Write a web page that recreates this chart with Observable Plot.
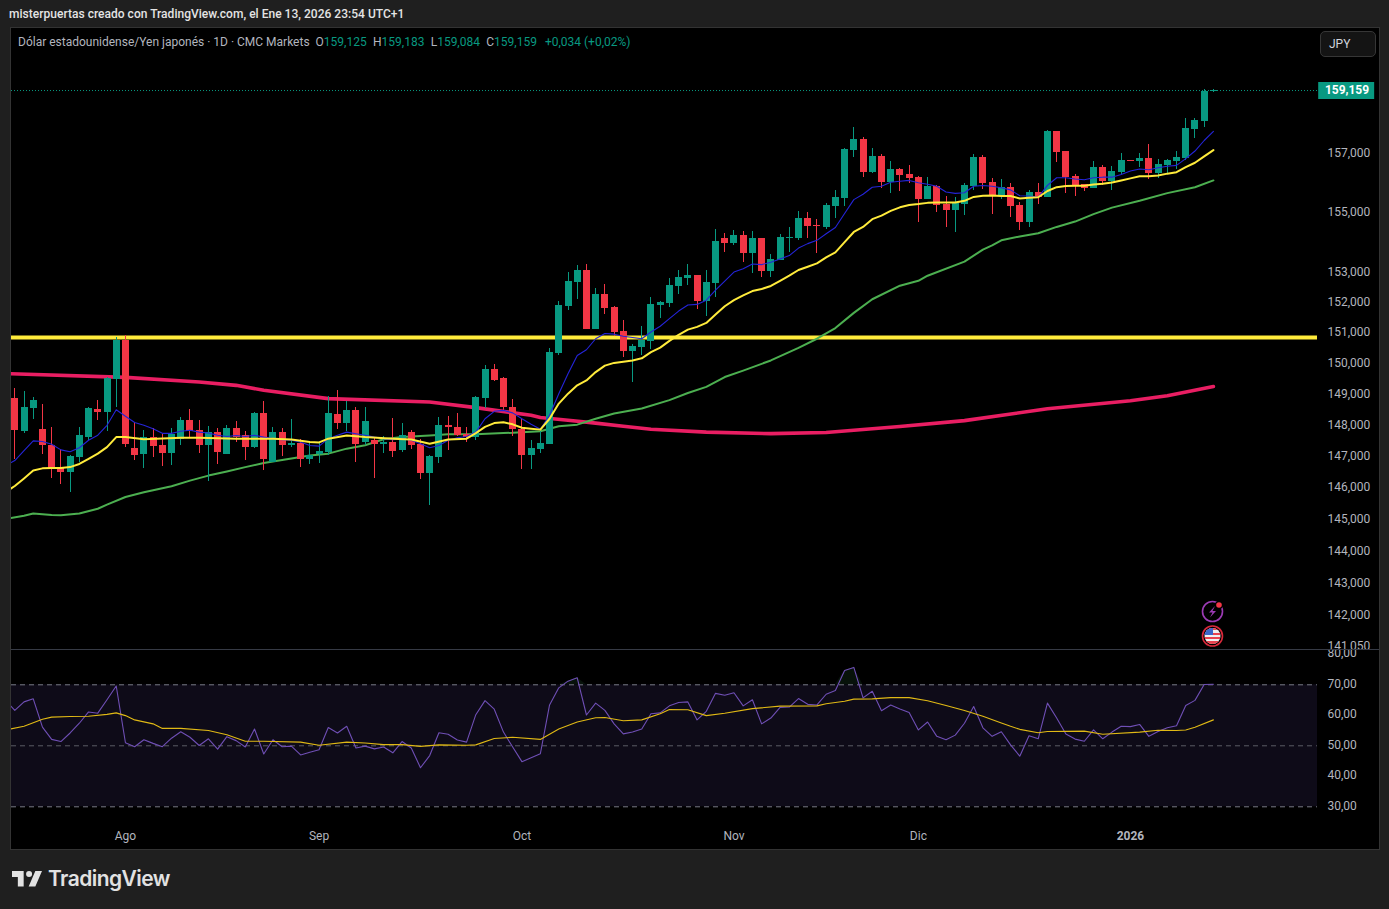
<!DOCTYPE html>
<html lang="es">
<head>
<meta charset="utf-8">
<script src="https://cdn.jsdelivr.net/npm/d3@7"></script>
<script src="https://cdn.jsdelivr.net/npm/@observablehq/plot@0.6"></script>
<style>
html,body{margin:0;padding:0;background:#1f1f1f;width:1389px;height:909px;overflow:hidden;font-family:Roboto,sans-serif}
.abs{position:absolute;white-space:nowrap}
#pane{left:10px;top:27px;width:1368px;height:821px;background:#000;border:1px solid #333}
#head{left:9px;top:7px;font-size:12px;font-weight:500;color:#e4e4e4;letter-spacing:.02px}
#legend{left:18px;top:35px;font-size:12px;color:#b2b5be}
#legend b{font-weight:400;color:#089981}
#legend span{margin-right:6.3px}
#legend span.first{margin-right:3px}
#legend span.last{margin-right:5px}
#jpy{left:1320px;top:31px;width:46px;height:24px;padding-left:8px;line-height:25px;font-size:12px;color:#d1d4dc;background:#141414;border:1px solid #363636;border-radius:5px}
#logoText{left:48px;top:866px;font-family:Inter,Roboto,sans-serif;font-size:21px;font-weight:600;color:#e2e2e2;letter-spacing:-.55px}
</style>
</head>
<body>
<div class="abs" id="pane"></div>
<div class="abs" id="head">misterpuertas creado con TradingView.com, el Ene 13, 2026 23:54 UTC+1</div>
<div class="abs" id="legend"><span class="first">Dólar estadounidense/Yen japonés · 1D · CMC Markets</span> <span>O<b>159,125</b></span><span>H<b>159,183</b></span><span>L<b>159,084</b></span><span class="last">C<b>159,159</b></span> <b>+0,034 (+0,02%)</b></div>
<div class="abs" id="jpy">JPY</div>
<svg class="abs" style="left:12px;top:871px" width="30" height="16" viewBox="0 0 36 19"><path fill="#e2e2e2" d="M14 18.5H7V7H0V0h14zM28 18.5h-8L28 0h8z"/><circle fill="#e2e2e2" cx="20.5" cy="3.6" r="3.6"/></svg>
<div class="abs" id="logoText">TradingView</div>
<div id="chart"></div>
<svg class="abs" style="left:1198px;top:598px;z-index:3" width="30" height="52" viewBox="0 0 30 52">
<circle cx="14.5" cy="13.5" r="10" fill="#000" stroke="#9c3bb5" stroke-width="1.6"/>
<path d="M17 8l-6 6.500h3.500l-2.500 5 6-6.500h-3.500z" fill="#9c3bb5"/>
<circle cx="21" cy="7" r="4" fill="#000"/><circle cx="21" cy="7" r="2.800" fill="#f23645"/>
<defs><clipPath id="fl"><circle cx="14.500" cy="38" r="8"/></clipPath></defs>
<circle cx="14.500" cy="38" r="10" fill="#000" stroke="#d9283a" stroke-width="1.6"/>
<g clip-path="url(#fl)"><rect x="6" y="30" width="18" height="16" fill="#f0f0f0"/><rect x="6" y="35" width="18" height="2" fill="#e8434f"/><rect x="6" y="39" width="18" height="2" fill="#e8434f"/><rect x="6" y="43" width="18" height="3" fill="#e8434f"/><rect x="6" y="30" width="18" height="2" fill="#e8434f"/><rect x="6" y="30" width="9" height="7" fill="#3a66c9"/></g>
</svg>
<script>
// ---- daily candles, USD/JPY (index 0 = 16 Jul 2025, weekdays only)
const opens=[148.85,147.80,148.54,147.86,147.34,146.60,146.47,146.96,147.60,148.51,148.41,149.47,150.74,147.25,147.05,147.60,147.34,147.09,147.54,148.15,
147.83,147.34,147.76,147.05,147.89,147.67,147.28,148.38,146.80,147.76,147.34,147.41,146.89,147.05,147.12,148.34,148.05,148.47,147.44,147.51,
147.38,147.44,147.18,147.76,147.38,146.44,146.96,147.99,147.92,147.70,147.60,148.86,149.80,149.51,148.57,147.86,147.02,147.22,147.38,150.32,
151.87,152.66,153.06,151.11,152.26,151.84,151.04,150.38,150.52,150.71,151.90,151.97,152.53,152.79,152.89,152.03,152.63,154.13,153.96,154.23,
153.62,154.13,153.01,153.38,154.13,154.13,154.80,154.57,154.50,155.21,155.48,157.10,157.47,156.36,156.90,156.02,156.46,156.29,156.19,155.44,
155.88,155.28,155.07,155.28,155.88,156.86,156.01,155.57,155.84,155.23,154.65,155.67,155.50,157.75,157.07,156.22,155.94,155.81,156.52,156.05,
156.35,156.76,156.73,156.83,156.32,156.59,156.73,156.83,157.83,158.09,159.125];
const closes=[147.83,148.56,148.80,147.34,146.57,146.47,146.99,147.67,148.54,148.41,149.51,150.74,147.38,147.02,147.60,147.31,147.09,147.70,148.15,147.80,
147.34,147.76,147.12,147.89,147.60,147.28,148.38,146.89,147.76,147.34,147.41,146.89,147.02,147.15,148.38,148.05,148.47,147.38,148.12,147.38,
147.44,147.15,147.67,147.34,146.44,146.99,147.99,147.92,147.67,147.60,148.89,149.80,149.44,148.57,147.86,147.02,147.25,147.41,150.35,151.90,
152.69,153.06,151.11,152.26,151.80,151.01,150.38,150.55,150.75,151.93,152.00,152.56,152.82,152.89,152.03,152.66,154.02,153.96,154.23,153.62,
154.13,153.01,153.42,154.16,154.16,154.80,154.53,154.53,155.24,155.51,157.14,157.47,156.36,156.90,156.02,156.46,156.26,156.15,155.44,155.88,
155.24,155.07,155.31,155.92,156.86,155.99,155.57,155.84,155.19,154.65,155.67,155.50,157.75,157.03,156.18,155.91,155.81,156.52,156.05,156.39,
156.76,156.73,156.83,156.32,156.63,156.76,156.86,157.86,158.13,159.13,159.159];
const highs=[149.17,149.09,148.89,148.67,147.92,147.22,147.02,147.92,148.57,148.80,149.53,150.83,150.90,148.09,147.83,147.89,147.70,147.89,148.25,148.51,
148.15,147.96,147.89,147.99,148.12,147.80,148.41,148.76,147.92,147.89,148.18,147.54,147.47,147.44,148.92,149.12,148.76,148.57,148.57,147.60,
147.63,148.22,148.05,147.83,147.54,147.02,148.25,148.28,148.38,147.92,148.92,149.92,149.96,149.54,148.83,148.22,147.51,147.80,150.48,152.03,
152.99,153.22,153.26,152.46,152.59,151.87,151.41,150.62,151.21,152.16,152.03,152.79,153.06,153.26,152.89,153.06,154.43,154.29,154.40,154.35,
154.36,154.13,153.59,154.26,154.50,155.04,155.00,154.77,155.31,155.75,157.17,157.88,157.54,157.17,156.97,156.73,156.49,156.59,156.22,156.19,
155.92,155.55,155.51,155.99,156.97,156.93,156.15,156.11,155.98,155.33,155.74,155.98,157.78,157.75,157.07,156.28,155.94,156.73,156.59,156.56,
157.00,156.77,157.00,157.31,156.80,156.80,157.07,158.20,158.20,159.20,159.183];
const lows=[146.88,147.74,148.18,147.05,146.28,146.09,145.83,146.80,147.51,148.15,147.80,148.57,147.28,146.86,146.60,146.96,146.67,146.70,147.34,147.57,
147.09,146.18,146.73,147.05,147.44,146.86,147.25,146.54,146.80,146.99,147.28,146.63,146.73,146.76,147.02,147.86,147.80,146.80,147.34,146.28,
147.09,146.96,147.12,147.22,146.25,145.44,146.76,147.18,147.63,147.44,147.51,148.54,149.41,148.47,147.63,146.57,146.57,147.09,147.38,150.25,
151.74,152.10,151.11,151.11,151.60,150.88,150.19,149.38,150.25,150.45,151.47,151.84,152.26,152.56,151.77,151.54,152.16,153.65,153.89,153.31,
152.94,152.81,152.81,153.38,153.65,154.06,154.13,153.62,154.43,154.80,155.21,156.86,156.19,156.32,155.82,155.65,155.72,155.99,154.67,155.44,
155.00,154.50,154.33,154.90,155.75,155.78,154.92,155.43,154.82,154.38,154.48,155.26,155.50,156.69,155.64,155.53,155.70,155.81,155.91,155.74,
156.28,156.72,156.52,156.11,156.15,156.28,156.45,156.76,157.51,157.89,159.084];

// ---- moving averages: index of each reading, then the reading
const blueIdx=d3.range(-1,131);
const blueVal=[146.70,146.86,147.18,147.49,147.47,147.38,147.20,147.14,147.27,147.51,147.67,147.99,148.49,148.28,148.08,147.99,147.88,147.73,147.73,147.80,147.83,
147.77,147.74,147.67,147.63,147.66,147.63,147.67,147.61,147.56,147.53,147.51,147.45,147.34,147.32,147.56,147.67,147.77,147.72,147.67,147.61,
147.56,147.53,147.56,147.51,147.40,147.27,147.34,147.51,147.59,147.63,147.77,148.20,148.44,148.47,148.39,148.20,148.02,147.86,148.31,149.01,
149.66,150.25,150.44,150.80,150.97,150.95,150.88,150.84,150.80,151.02,151.21,151.46,151.71,151.91,151.93,152.07,152.40,152.70,153.00,153.11,
153.27,153.25,153.33,153.44,153.55,153.80,153.95,154.06,154.28,154.49,154.96,155.43,155.61,155.85,155.88,156.02,156.05,156.08,156.00,155.95,
155.88,155.69,155.64,155.66,155.88,155.91,155.88,155.83,155.76,155.56,155.55,155.51,155.91,156.17,156.17,156.13,156.10,156.17,156.19,156.19,
156.28,156.40,156.47,156.44,156.51,156.56,156.59,156.82,157.08,157.44,157.75];
const yellowIdx=[-1,0,1,2,3,4,5,6,7,8,9,10,11,12,14,18,20,24,28,30,32,33,34,36,38,41,43,45,47,49,50,51,52,53,54,55,56,57,58,59,60,61,62,63,64,65,66,67,68,69,70,71,72,73,74,75,76,77,78,79,80,81,82,83,84,85,86,87,88,89,90,91,92,93,94,95,96,97,98,99,100,102,103,104,105,106,107,108,109,110,111,112,113,114,115,116,117,118,119,120,121,122,123,124,125,126,127,128,129,130];
const yellowVal=[145.85,146.05,146.29,146.54,146.61,146.62,146.62,146.65,146.75,146.91,147.08,147.29,147.61,147.61,147.54,147.59,147.59,147.56,147.56,147.53,147.45,147.44,147.56,147.66,147.61,147.56,147.53,147.40,147.53,147.56,147.74,147.94,148.06,148.09,148.02,147.91,147.88,147.85,148.20,148.69,149.01,149.28,149.44,149.71,149.92,150.01,150.05,150.09,150.16,150.36,150.51,150.73,150.93,151.10,151.19,151.32,151.60,151.87,152.07,152.23,152.37,152.44,152.54,152.71,152.88,153.07,153.18,153.29,153.49,153.66,154.00,154.34,154.51,154.77,154.89,155.05,155.17,155.25,155.28,155.32,155.33,155.33,155.39,155.52,155.56,155.57,155.55,155.55,155.47,155.49,155.51,155.72,155.85,155.89,155.90,155.90,155.94,155.97,156.01,156.08,156.15,156.22,156.22,156.25,156.31,156.36,156.53,156.68,156.90,157.11];
const greenIdx=[-1,1,2,4,5,7,9,10,12,14,17,19,21,23,25,27,28,32,34,36,38,40,42,45,47,50,53,54,57,59,61,63,65,68,71,73,75,77,79,82,85,87,89,91,93,96,98,99,103,105,106,107,109,111,113,115,117,119,122,125,128,130];
const greenVal=[145.01,145.11,145.18,145.13,145.12,145.18,145.33,145.46,145.70,145.85,146.04,146.22,146.38,146.51,146.65,146.78,146.83,147.02,147.08,147.24,147.35,147.54,147.61,147.66,147.70,147.70,147.74,147.75,147.80,147.96,148.01,148.20,148.37,148.53,148.80,149.03,149.23,149.55,149.76,150.09,150.50,150.80,151.15,151.65,152.10,152.55,152.71,152.88,153.35,153.75,153.89,154.06,154.19,154.30,154.51,154.69,154.94,155.16,155.39,155.65,155.85,156.08];
const pinkIdx=[-1,12,20,24,27,34,45,50,56,57,60,63,66,69,75,82,88,96,103,112,121,125,130];
const pinkVal=[149.66,149.54,149.39,149.28,149.12,148.85,148.74,148.56,148.31,148.24,148.15,148.06,147.96,147.86,147.77,147.72,147.76,147.95,148.14,148.52,148.78,148.94,149.24];
const levelPrice=150.84, lastPrice=159.159;
const priceTicks=[141.05,142,143,144,145,146,147,148,149,150,151,152,153,155,157];

// ---- RSI panel
const rsiIdx=d3.range(-1,131);
const rsiVal=[64.9,61.6,64.4,65.4,56.1,52.1,51.4,54.2,57.4,61.1,60.7,65.1,69.6,51.0,49.7,52.0,50.8,49.7,52.5,54.6,52.8,50.1,52.3,48.9,53.0,51.7,49.6,55.5,47.3,52.0,49.7,49.9,47.0,47.9,48.7,56.0,54.2,56.4,49.3,49.9,49.0,49.6,47.7,51.4,49.3,42.8,
46.8,54.3,53.8,51.9,51.2,60.2,64.8,62.0,54.5,49.6,44.8,46.1,47.4,63.4,69.0,71.2,72.3,60.1,64.0,61.6,57.2,53.9,54.5,55.5,60.5,60.8,63.1,64.2,64.4,58.5,61.3,67.2,66.6,67.4,63.1,65.1,57.2,59.1,62.6,62.7,65.5,63.6,63.4,66.9,
68.1,74.7,75.7,65.7,67.9,61.5,63.4,62.1,60.9,55.2,57.8,53.1,52.0,53.5,57.4,62.9,55.9,53.1,54.6,50.3,46.6,53.3,52.3,64.0,59.1,53.9,52.2,51.5,55.2,52.3,54.5,56.4,56.3,57.0,53.1,54.7,55.9,56.6,63.2,64.9,70.1,70.2];
const rsiMaIdx=[-1,1,3,4,6,8,10,11,12,13,15,16,18,21,23,25,27,31,33,36,38,40,42,44,46,49,50,52,54,57,59,61,63,64,66,68,70,71,73,75,77,80,83,87,88,90,91,93,95,97,99,101,103,105,107,108,109,111,112,116,118,122,124,126,127,128,130];
const rsiMaVal=[55.2,56.4,58.7,59.4,59.6,59.7,60.3,60.8,59.9,58.5,57.2,55.7,55.7,55.0,53.6,51.5,51.5,51.2,50.2,51.2,50.9,50.4,50.4,49.8,50.3,50.2,50.3,52.4,52.8,52.1,55.5,57.8,59.2,59.3,58.2,58.5,60.5,61.9,61.8,59.9,60.7,62.2,63.0,63.1,63.8,64.6,65.3,65.4,65.8,65.8,64.8,63.2,61.6,59.7,57.5,56.4,55.4,54.3,54.7,54.8,53.8,54.5,55.1,55.0,55.2,56.1,58.5];
const rsiLevels=[70,50,30];
const rsiTicks=[80,70,60,50,40,30];

// ---- time axis
const monthIdx=[12,33,55,78,98], monthLab=["Ago","Sep","Oct","Nov","Dic"];
const yearIdx=[121], yearLab=["2026"];

const GREEN="#089981", RED="#f23645", AXIS="#b2b5be", FONT="Roboto,sans-serif";
const candles=opens.map((o,i)=>({i,o,c:closes[i],h:highs[i],l:lows[i],col:closes[i]>=o?GREEN:RED}));
const series=(idx,val)=>idx.map((i,k)=>({i,v:val[k]}));
const xDomain=[-0.358,141.29];
const comma=(n,d)=>d3.format("."+d+"f")(n).replace(".",",");

const price=Plot.plot({
  width:1389,height:621,marginTop:0,marginBottom:0,marginLeft:11,marginRight:10,
  style:{background:"transparent",fontFamily:FONT,fontSize:"12px"},
  x:{domain:[xDomain[0],xDomain[1]+(62/9.22)],axis:null},
  y:{type:"log",domain:[140.95,161.32],axis:null},
  marks:[
    Plot.ruleY([lastPrice],{x1:xDomain[0],x2:xDomain[1],stroke:GREEN,strokeDasharray:"1 2",strokeWidth:1}),
    Plot.lineY(series(pinkIdx,pinkVal),{x:"i",y:"v",stroke:"#e91e63",strokeWidth:3.6,clip:true}),
    Plot.ruleY([levelPrice],{x1:xDomain[0],x2:xDomain[1],stroke:"#ffeb3b",strokeWidth:4}),
    Plot.lineY(series(greenIdx,greenVal),{x:"i",y:"v",stroke:"#4caf50",strokeWidth:2,clip:true}),
    Plot.ruleX(candles,{x:"i",y1:"l",y2:"h",stroke:"col",strokeWidth:1,shapeRendering:"crispEdges"}),
    Plot.ruleX(candles,{x:"i",y1:"o",y2:"c",stroke:"col",strokeWidth:7,shapeRendering:"crispEdges"}),
    Plot.lineY(series(blueIdx,blueVal),{x:"i",y:"v",stroke:"#2424d8",strokeWidth:1.1,clip:true}),
    Plot.lineY(series(yellowIdx,yellowVal),{x:"i",y:"v",stroke:"#ffeb3b",strokeWidth:2,clip:true}),
    Plot.text(priceTicks,{x:xDomain[1],y:d=>d,text:d=>comma(d,3),dx:10,textAnchor:"start",fill:AXIS,fontSize:12}),
    Plot.ruleY([lastPrice],{x1:xDomain[1]+0.13,x2:xDomain[1]+6.2,stroke:GREEN,strokeWidth:17}),
    Plot.text([lastPrice],{x:xDomain[1]+3.2,y:d=>d,text:d=>comma(d,3),fill:"#fff",fontWeight:700,fontSize:12})
  ]
});
price.style.cssText+=";position:absolute;left:0;top:28px;overflow:hidden";

const rsiRows=series(rsiIdx,rsiVal);
const rsi=Plot.plot({
  width:1389,height:199,marginTop:0,marginBottom:28,marginLeft:11,marginRight:10,
  style:{background:"transparent",fontFamily:FONT,fontSize:"12px"},
  x:{domain:[xDomain[0],xDomain[1]+(62/9.22)],axis:null},
  y:{domain:[25.18,81.25],axis:null},
  marks:[
    Plot.rectY([0],{x1:xDomain[0],x2:xDomain[1],y1:30,y2:70,fill:"#0e0b18"}),
    Plot.areaY(rsiRows,{x:"i",y1:70,y2:d=>Math.max(d.v,70),fill:"#07120a"}),
    Plot.ruleY(rsiLevels,{x1:xDomain[0],x2:xDomain[1],stroke:d=>d===50?"#5a5c64":"#787b86",strokeDasharray:"5 4",strokeWidth:1}),
    Plot.lineY(rsiRows,{x:"i",y:"v",stroke:"#6f4fb5",strokeWidth:1.1,clip:true}),
    Plot.lineY(series(rsiMaIdx,rsiMaVal),{x:"i",y:"v",stroke:"#e0b915",strokeWidth:1.1,clip:true}),
    Plot.text(rsiTicks,{x:xDomain[1],y:d=>d,text:d=>comma(d,2),dx:10,dy:-1,textAnchor:"start",fill:AXIS,fontSize:12}),
    Plot.axisX({ticks:monthIdx,tickSize:0,tickPadding:10,tickFormat:d=>monthLab[monthIdx.indexOf(d)],fill:AXIS,label:null,fontSize:12}),
    Plot.axisX({ticks:yearIdx,tickSize:0,tickPadding:10,tickFormat:d=>yearLab[yearIdx.indexOf(d)],fill:AXIS,fontWeight:700,label:null,fontSize:12})
  ]
});
rsi.style.cssText+=";position:absolute;left:0;top:650px;overflow:hidden";

const chart=document.getElementById("chart");
chart.append(price,rsi);
const sep=document.createElement("div");
sep.className="abs";
sep.style.cssText="left:11px;top:649px;width:1368px;height:1px;background:#363a45;z-index:2";
chart.append(sep);
</script>
</body>
</html>
